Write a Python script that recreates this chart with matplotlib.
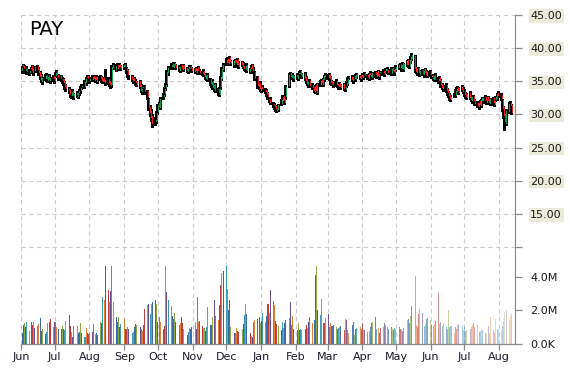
import matplotlib
matplotlib.use("Agg")
import matplotlib.pyplot as plt
import matplotlib.dates as mdates
import numpy as np
import pandas as pd

ticker = "PAY"
first_trading_day = "2014-06-02"
x_start = "2014-06-01"
x_end = "2015-08-15"

closes = [
    # Jun 2014
    37.0, 37.2, 36.8, 36.9, 36.4, 36.6, 37.0, 36.5, 36.8, 37.1, 36.7, 36.3, 35.6, 35.2, 35.5, 35.8, 35.4, 35.6, 35.2, 35.5, 35.4,
    # Jul
    35.6, 36.2, 36.0, 35.5, 35.3, 35.0, 34.8, 34.2, 33.8, 33.5, 33.0, 33.4, 32.8, 33.1, 32.9, 33.3, 33.6, 34.0, 34.3, 34.9, 35.3, 35.5, 35.3,
    # Aug
    35.4, 35.6, 35.3, 35.5, 35.2, 35.6, 35.4, 35.1, 35.3, 34.9, 35.2, 34.8, 34.5, 34.3, 37.2, 37.0, 37.3, 36.9, 37.4, 37.1, 37.3,
    # Sep
    37.4, 37.2, 36.5, 35.9, 35.6, 35.2, 35.4, 35.0, 34.7, 34.9, 34.2, 33.6, 33.9, 34.2, 33.4, 32.6, 31.0, 30.2, 29.4, 28.6, 29.2, 30.2,
    # Oct
    31.4, 31.2, 32.4, 33.0, 33.8, 34.4, 36.4, 37.0, 37.4, 37.2, 37.6, 37.3, 37.0, 36.8, 37.2, 36.9, 37.3, 36.8, 36.6, 36.9, 37.2, 36.8, 36.6,
    # Nov
    36.8, 36.5, 36.9, 36.6, 36.3, 36.4, 36.0, 35.6, 35.9, 35.2, 34.6, 34.9, 34.0, 34.4, 33.6, 33.2, 33.9, 35.6, 36.9, 37.5,
    # Dec
    38.2, 37.8, 38.4, 37.9, 37.6, 38.0, 37.7, 38.1, 37.4, 37.8, 37.5, 37.2, 36.9, 37.3, 36.6, 36.8, 37.2, 36.9, 36.5, 35.4, 34.3, 34.6, 33.9,
    # Jan 2015
    34.0, 33.8, 33.4, 33.0, 32.6, 32.2, 31.8, 31.4, 31.2, 30.8, 30.6, 31.4, 32.2, 32.6, 32.0, 32.4, 34.2, 36.0, 35.7, 35.9, 35.5, 35.8,
    # Feb
    35.6, 36.0, 36.3, 35.9, 36.1, 35.4, 35.0, 34.6, 34.9, 34.3, 34.0, 33.6, 34.2, 33.5, 34.6, 35.0, 34.7, 35.3, 35.8, 35.6,
    # Mar
    35.9, 35.4, 34.8, 34.6, 34.9, 34.5, 34.3, 34.5, 34.2, 34.4, 33.9, 34.1, 34.8, 35.4, 35.5, 35.2, 35.6, 35.4, 35.9, 35.7, 35.5, 35.8,
    # Apr
    35.7, 36.0, 35.8, 35.6, 36.1, 35.9, 35.7, 36.2, 35.9, 36.3, 35.8, 36.1, 36.4, 36.2, 36.6, 36.8, 36.5, 36.3, 36.9, 36.6, 36.4, 36.8,
    # May
    37.2, 37.4, 37.0, 37.5, 36.9, 37.6, 38.0, 37.4, 38.2, 38.6, 39.0, 36.9, 36.4, 36.8, 36.2, 36.5, 36.1, 36.6, 36.3, 36.0, 36.4,
    # Jun
    36.0, 35.7, 35.4, 35.8, 35.2, 35.4, 35.0, 34.4, 34.0, 34.3, 33.6, 33.2, 32.8, 32.4, 32.7, 33.0, 33.6, 33.9, 33.5, 34.0, 33.7, 33.4,
    # Jul
    33.0, 32.7, 33.1, 32.5, 32.2, 32.6, 32.0, 31.6, 31.3, 31.8, 31.5, 32.2, 32.5, 32.0, 32.4, 32.1, 31.8, 32.3, 31.7, 32.0, 32.6, 33.1, 32.8,
    # Aug
    32.4, 30.9, 29.8, 28.8, 30.6, 31.6, 31.3, 30.2,
]

opens = [
    36.5, 37.4, 37.3, 36.5, 37.0, 36.2, 36.9, 37.3, 36.2, 36.6, 37.3, 36.9, 36.4, 35.9, 34.9, 35.4, 36.0, 35.1, 35.9, 35.0, 35.8,
    35.1, 35.8, 36.5, 35.9, 35.8, 35.4, 35.3, 34.9, 34.4, 34.0, 33.7, 32.8, 33.6, 32.5, 33.3, 32.7, 33.2, 33.5, 34.1, 34.2, 34.7, 35.6, 35.8,
    35.0, 35.2, 35.8, 35.1, 35.7, 34.9, 35.8, 35.6, 34.9, 35.5, 34.7, 35.4, 35.0, 34.7, 34.4, 37.5, 36.7, 37.5, 37.2, 37.6, 36.9,
    37.1, 37.6, 37.0, 36.7, 35.7, 35.8, 35.0, 35.5, 35.1, 34.5, 35.0, 34.4, 33.4, 34.0, 34.3, 33.5, 32.3, 31.2, 30.5, 29.8, 28.8, 29.0,
    30.4, 31.7, 31.0, 32.6, 33.1, 34.0, 34.6, 36.2, 37.1, 37.6, 37.0, 37.7, 37.4, 37.2, 36.6, 37.4, 36.7, 37.4, 37.0, 36.4, 36.8, 37.3, 37.0,
    36.4, 37.0, 36.3, 37.1, 36.7, 36.1, 36.6, 36.1, 35.4, 36.0, 35.3, 34.4, 35.1, 33.8, 34.6, 33.8, 33.0, 34.1, 35.4, 36.7,
    37.7, 38.4, 37.6, 38.6, 38.0, 37.4, 38.2, 37.5, 38.3, 37.2, 37.9, 37.7, 37.3, 36.7, 37.5, 36.4, 36.9, 37.4, 37.0, 36.4, 35.6, 34.1, 34.8,
    33.6, 34.2, 33.7, 33.5, 33.2, 32.4, 32.4, 31.6, 31.5, 31.3, 31.0, 30.7, 31.6, 32.1, 32.8, 31.8, 32.6, 34.3, 36.2, 35.5, 36.0, 35.3,
    36.0, 35.4, 36.1, 36.5, 35.7, 36.2, 35.6, 35.2, 34.4, 35.1, 34.5, 34.2, 33.4, 34.4, 33.3, 34.5, 35.2, 34.5, 35.2, 36.0,
    35.5, 36.1, 35.6, 35.0, 34.4, 35.1, 34.6, 34.1, 34.7, 34.0, 34.6, 33.7, 34.3, 34.6, 35.6, 35.7, 35.0, 35.8, 35.2, 36.1, 35.8, 35.3,
    36.0, 35.5, 36.2, 35.9, 35.4, 36.3, 36.0, 35.5, 36.4, 35.7, 36.5, 35.6, 36.2, 36.6, 36.0, 36.5, 36.9, 36.7, 36.1, 37.0, 36.7, 36.2,
    36.7, 37.0, 37.6, 36.8, 37.7, 36.7, 37.5, 38.2, 37.2, 38.0, 38.4, 38.8, 37.1, 36.2, 37.0, 36.0, 36.7, 35.9, 36.8, 36.5, 35.8,
    36.5, 35.8, 35.9, 35.2, 36.0, 35.0, 35.6, 35.2, 34.6, 33.8, 34.5, 33.8, 33.4, 33.0, 32.2, 32.9, 32.8, 33.4, 34.1, 33.3, 34.2, 33.9,
    33.6, 33.2, 32.5, 33.3, 32.7, 32.0, 32.8, 32.2, 31.8, 31.1, 32.0, 31.3, 32.0, 32.7, 31.8, 32.6, 32.3, 31.6, 32.5, 31.5, 32.2, 32.4, 33.3,
    33.0, 32.2, 31.1, 30.0, 28.6, 30.4, 31.8, 31.5,
]

highs = [
    37.3, 37.6, 37.5, 37.1, 37.3, 36.8, 37.2, 37.5, 36.9, 37.3, 37.5, 37.1, 36.6, 36.1, 35.7, 36.1, 36.2, 35.8, 36.1, 35.7, 36.0,
    35.8, 36.4, 36.7, 36.1, 36.0, 35.6, 35.5, 35.1, 34.6, 34.2, 33.9, 33.7, 33.8, 33.3, 33.5, 33.6, 33.9, 34.3, 34.6, 35.2, 35.6, 35.9, 36.0,
    35.7, 35.9, 36.0, 35.8, 35.9, 35.8, 36.0, 35.8, 35.5, 35.7, 36.8, 35.6, 35.2, 34.9, 37.5, 37.7, 37.6, 37.7, 37.6, 37.8, 37.5,
    37.6, 37.8, 37.2, 36.9, 36.0, 36.0, 35.6, 35.7, 35.3, 35.1, 35.2, 34.6, 34.1, 34.5, 34.5, 33.7, 32.5, 31.4, 30.8, 30.0, 29.6, 30.5,
    31.6, 31.9, 32.6, 33.3, 34.1, 34.8, 36.7, 37.3, 37.7, 37.8, 37.9, 37.9, 37.6, 37.4, 37.4, 37.6, 37.5, 37.6, 37.2, 37.1, 37.4, 37.5, 37.2,
    37.0, 37.2, 37.1, 37.3, 36.9, 36.6, 36.8, 36.3, 36.1, 36.2, 35.5, 35.1, 35.3, 34.6, 34.8, 34.0, 34.1, 35.8, 37.1, 37.7,
    38.5, 38.6, 38.6, 38.8, 38.2, 38.2, 38.4, 38.3, 38.5, 38.0, 38.1, 37.9, 37.5, 37.5, 37.7, 37.0, 37.4, 37.6, 37.2, 36.6, 35.8, 34.8, 35.0,
    34.2, 34.4, 34.0, 33.8, 33.4, 32.7, 32.6, 31.9, 31.7, 31.5, 31.2, 31.6, 32.4, 32.9, 33.0, 32.7, 34.4, 36.2, 36.4, 36.1, 36.2, 36.0,
    36.2, 36.2, 36.5, 36.7, 36.3, 36.4, 35.8, 35.4, 35.1, 35.3, 34.7, 34.4, 34.5, 34.6, 34.8, 35.2, 35.4, 35.5, 36.0, 36.2,
    36.1, 36.3, 35.8, 35.2, 35.1, 35.3, 34.8, 34.7, 34.9, 34.6, 34.8, 34.3, 35.0, 35.6, 35.8, 35.9, 35.8, 36.0, 36.1, 36.3, 36.0, 36.0,
    36.2, 36.2, 36.4, 36.1, 36.3, 36.5, 36.2, 36.4, 36.6, 36.5, 36.7, 36.3, 36.6, 36.8, 36.8, 37.0, 37.1, 36.9, 37.1, 37.2, 36.9, 37.0,
    37.4, 37.6, 37.8, 37.7, 37.9, 37.8, 38.2, 38.4, 38.4, 38.8, 39.3, 39.0, 37.2, 37.0, 37.2, 36.7, 36.9, 36.8, 37.0, 36.7, 36.6,
    36.7, 36.0, 36.1, 36.0, 36.2, 35.6, 35.8, 35.4, 34.8, 34.5, 34.7, 34.0, 33.6, 33.2, 32.9, 33.2, 33.8, 34.1, 34.3, 34.2, 34.4, 34.1,
    33.8, 33.4, 33.3, 33.5, 32.9, 32.8, 33.0, 32.4, 32.0, 32.0, 32.2, 32.4, 32.7, 32.9, 32.6, 32.8, 32.5, 32.5, 32.7, 32.2, 32.8, 33.3, 33.5,
    33.2, 32.4, 31.3, 30.2, 30.8, 31.9, 32.0, 31.6,
]

lows = [
    36.3, 36.9, 36.5, 36.3, 36.1, 36.0, 36.6, 36.2, 35.9, 36.4, 36.4, 36.0, 35.3, 34.9, 34.6, 35.2, 35.1, 34.9, 35.0, 34.8, 35.1,
    34.8, 35.6, 35.7, 35.2, 35.0, 34.7, 34.4, 33.9, 33.5, 33.2, 32.7, 32.5, 32.5, 32.3, 32.6, 32.5, 32.9, 33.3, 33.8, 34.0, 34.5, 35.2, 35.0,
    34.8, 35.0, 35.1, 34.9, 35.0, 34.7, 35.2, 34.9, 34.7, 34.7, 34.5, 34.6, 34.3, 34.0, 34.2, 36.8, 36.5, 36.7, 36.9, 36.9, 36.7,
    36.9, 36.9, 36.2, 35.7, 35.3, 35.0, 34.8, 34.8, 34.5, 34.3, 34.0, 33.4, 33.1, 33.7, 33.1, 32.4, 30.7, 29.8, 29.0, 28.1, 28.4, 28.7,
    30.1, 31.0, 30.8, 32.3, 32.8, 33.7, 34.3, 36.0, 36.8, 37.0, 36.8, 37.0, 36.8, 36.6, 36.4, 36.7, 36.5, 36.6, 36.4, 36.2, 36.6, 36.6, 36.4,
    36.2, 36.3, 36.1, 36.4, 36.1, 35.9, 35.8, 35.4, 35.2, 35.0, 34.4, 34.2, 33.8, 33.6, 33.4, 32.9, 32.8, 33.9, 35.2, 36.5,
    37.4, 37.6, 37.4, 37.7, 37.4, 37.2, 37.5, 37.3, 37.2, 37.0, 37.3, 37.0, 36.7, 36.5, 36.4, 36.2, 36.7, 36.7, 36.3, 35.2, 34.0, 33.9, 33.6,
    33.4, 33.6, 33.2, 32.8, 32.4, 31.9, 31.6, 31.2, 30.9, 30.6, 30.4, 30.5, 31.4, 31.9, 31.8, 31.6, 32.4, 34.1, 35.5, 35.3, 35.3, 35.1,
    35.4, 35.2, 35.9, 35.7, 35.5, 35.2, 34.8, 34.4, 34.2, 34.1, 33.8, 33.4, 33.2, 33.3, 33.1, 34.3, 34.5, 34.3, 35.0, 35.4,
    35.3, 35.2, 34.6, 34.4, 34.2, 34.3, 34.1, 33.9, 34.0, 33.8, 33.7, 33.5, 34.1, 34.4, 35.3, 35.0, 34.8, 35.2, 35.0, 35.5, 35.3, 35.1,
    35.5, 35.3, 35.6, 35.4, 35.2, 35.7, 35.5, 35.3, 35.7, 35.5, 35.6, 35.4, 36.0, 36.0, 35.8, 36.3, 36.3, 36.1, 35.9, 36.4, 36.2, 36.0,
    36.5, 36.8, 36.8, 36.6, 36.7, 36.5, 37.3, 37.2, 37.0, 37.8, 38.2, 36.4, 36.2, 36.0, 36.0, 35.8, 35.9, 35.7, 36.1, 35.8, 35.6,
    35.8, 35.5, 35.2, 35.0, 35.0, 34.8, 34.8, 34.2, 33.8, 33.6, 33.4, 33.0, 32.6, 32.2, 32.0, 32.6, 32.6, 33.2, 33.3, 33.1, 33.5, 33.2,
    32.8, 32.5, 32.3, 32.3, 32.0, 31.8, 31.8, 31.4, 31.1, 30.9, 31.3, 31.1, 31.8, 31.8, 31.6, 31.9, 31.6, 31.4, 31.5, 31.3, 32.0, 32.2, 32.6,
    32.2, 30.6, 29.4, 27.7, 28.4, 30.2, 30.9, 30.0,
]

volume_millions = [
    0.64, 1.14, 1.28, 1.0, 1.3, 0.8, 1.3, 1.14, 1.3, 0.94, 1.08, 1.2, 1.56, 0.8, 0.88, 0.6, 0.74, 1.28, 1.34, 1.48, 1.0,
    1.32, 1.32, 1.04, 0.88, 0.9, 1.08, 0.88, 0.84, 1.4, 1.74, 1.08, 0.74, 0.44, 1.1, 1.08, 0.68, 0.7, 1.28, 0.64, 0.44, 0.95, 0.68, 0.6,
    0.64, 0.74, 1.2, 0.6, 0.64, 0.54, 1.3, 1.28, 2.8, 2.64, 4.64, 3.2, 2.48, 3.14, 4.64, 2.48, 1.64, 1.34, 1.6, 1.04, 1.2,
    1.5, 0.92, 0.88, 1.0, 0.88, 0.68, 0.7, 1.0, 1.2, 1.14, 1.0, 0.9, 0.8, 1.14, 2.1, 2.3, 2.38, 1.8, 2.4, 2.5, 2.6, 2.4,
    1.3, 1.6, 1.34, 0.88, 1.1, 4.64, 3.08, 2.64, 2.28, 1.68, 1.5, 1.88, 1.3, 1.14, 1.28, 1.6, 1.24, 0.9, 0.54, 0.74, 0.94, 0.88, 1.0,
    1.34, 0.88, 2.8, 1.34, 1.4, 1.08, 0.94, 0.8, 1.0, 2.2, 1.14, 1.14, 1.6, 2.64, 1.68, 1.44, 2.34, 3.5, 4.24, 4.34,
    4.64, 3.28, 2.04, 2.64, 1.0, 0.64, 0.68, 0.94, 0.8, 0.74, 0.9, 1.2, 1.74, 2.4, 1.8, 0.68, 0.5, 0.4, 1.34, 1.44, 1.48, 1.6, 1.24,
    1.38, 1.88, 1.34, 1.68, 2.4, 1.84, 3.24, 2.54, 2.34, 1.4, 1.2, 1.08, 0.84, 1.34, 0.94, 1.28, 1.44, 1.54, 2.48, 1.14, 1.68, 0.88,
    0.84, 1.24, 0.84, 0.88, 0.84, 0.88, 1.14, 0.94, 1.34, 1.64, 1.28, 1.44, 4.14, 4.64, 2.0, 1.74, 2.68, 1.24, 1.28, 1.54,
    1.8, 1.0, 1.24, 1.08, 1.14, 1.0, 0.88, 0.94, 1.04, 1.08, 0.84, 1.48, 1.44, 0.84, 0.68, 1.14, 1.34, 0.54, 0.88, 0.94, 1.04, 0.9,
    1.28, 0.84, 0.84, 0.74, 0.8, 1.0, 1.28, 1.34, 1.6, 0.88, 0.94, 0.68, 0.94, 1.0, 1.24, 1.14, 1.0, 0.9, 1.0, 0.88, 0.84, 0.95,
    0.88, 1.0, 0.9, 0.88, 0.8, 0.94, 1.44, 1.48, 1.24, 1.68, 2.28, 4.08, 1.14, 1.0, 1.8, 2.08, 1.84, 1.08, 1.2, 1.48, 1.54,
    1.44, 1.14, 1.08, 1.2, 1.4, 3.04, 1.2, 1.34, 1.08, 1.24, 1.04, 0.9, 2.0, 1.0, 1.08, 0.64, 1.0, 0.9, 1.14, 1.2, 1.14, 0.84,
    1.0, 0.8, 0.84, 0.9, 1.0, 1.14, 1.24, 1.0, 1.14, 0.74, 0.8, 0.88, 0.84, 0.68, 0.6, 1.08, 0.68, 1.6, 0.84, 0.68, 1.48, 0.9, 0.88,
    0.84, 1.08, 1.4, 1.94, 2.0, 1.44, 1.68, 1.88,
]

price_ticks = [10, 15, 20, 25, 30, 35, 40, 45]
volume_ticks = [0, 2, 4]
volume_tick_labels = ["0.0K", "2.0M", "4.0M"]

# ---------------------------------------------------------------
n = min(len(closes), len(opens), len(highs), len(lows), len(volume_millions))
o = np.array(opens[:n]); c = np.array(closes[:n])
h = np.array(highs[:n]); l = np.array(lows[:n]); v = np.array(volume_millions[:n])
dates = pd.bdate_range(first_trading_day, periods=n)
x = mdates.date2num(dates.to_pydatetime())

fig = plt.figure(figsize=(5.7, 3.7), dpi=100)
ax = fig.add_axes([21 / 570, 26 / 370, 494 / 570, 329 / 370])
ax2 = ax.twinx()

grid_color = "#cdcdcd"
axis_color = "#8a8a8a"

ax.set_xlim(mdates.datestr2num(x_start), mdates.datestr2num(x_end))
ax.set_ylim(-4.6, 45)
ax2.set_ylim(0, 19.64)

# volume bars
palette = ["#3d6baa", "#b9423f", "#8daa4b", "#6b4f93", "#3b9ab3", "#e07e38"]
fade_start = mdates.datestr2num("2015-02-15")
alphas = np.clip(1 - 0.7 * (x - fade_start) / (x[-1] - fade_start), 0.3, 1.0)
for i in range(n):
    ax2.bar(x[i], v[i], width=0.9, color=palette[i % len(palette)], alpha=alphas[i],
            linewidth=0, antialiased=False)

# candles: black high-low wick with a coloured open-close body beside it
up = c >= o
body_colors = np.where(up, "#12a150", "#ff1a1a")
body_bottom = np.minimum(o, c)
body_height = np.maximum(np.abs(c - o), 0.08)
ax.vlines(x - 0.45, l, h, color="black", linewidth=0.75, zorder=3, antialiased=False)
ax.bar(x + 0.5, body_height, width=0.9, bottom=body_bottom, color=body_colors,
       linewidth=0, zorder=4, antialiased=False)

# grid
ax.set_yticks(price_ticks)
ax.xaxis.set_major_locator(mdates.MonthLocator())
ax.xaxis.set_major_formatter(mdates.DateFormatter("%b"))
ax.grid(True, color=grid_color, linestyle=(0, (4, 3)), linewidth=0.8)
ax.set_axisbelow(True)
ax2.grid(False)

for a in (ax, ax2):
    a.spines["left"].set_visible(False)
    a.spines["top"].set_visible(False)
    a.spines["right"].set_color(axis_color)
    a.spines["bottom"].set_color(axis_color)

ax.yaxis.tick_right()
ax.set_yticklabels(["" if t == 10 else f"{t:.2f}" for t in price_ticks])
ax.tick_params(axis="y", length=5, width=0.9, color=axis_color, pad=6, labelsize=8, labelcolor="#1a1a1a")
for lbl in ax.get_yticklabels():
    if lbl.get_text():
        lbl.set_bbox(dict(facecolor="#ecead9", edgecolor="none", pad=1.2))
ax.tick_params(axis="x", length=4, width=0.9, color=axis_color, pad=2, labelsize=8, labelcolor="#1a1a2e")

ax2.set_yticks(volume_ticks)
ax2.set_yticklabels(volume_tick_labels)
ax2.tick_params(axis="y", length=5, width=0.9, color=axis_color, pad=6, labelsize=8, labelcolor="#1a1a1a")

ax.text(0.016, 0.985, ticker, transform=ax.transAxes, fontsize=14, va="top", ha="left", color="black")

fig.savefig("out.png", dpi=100)
